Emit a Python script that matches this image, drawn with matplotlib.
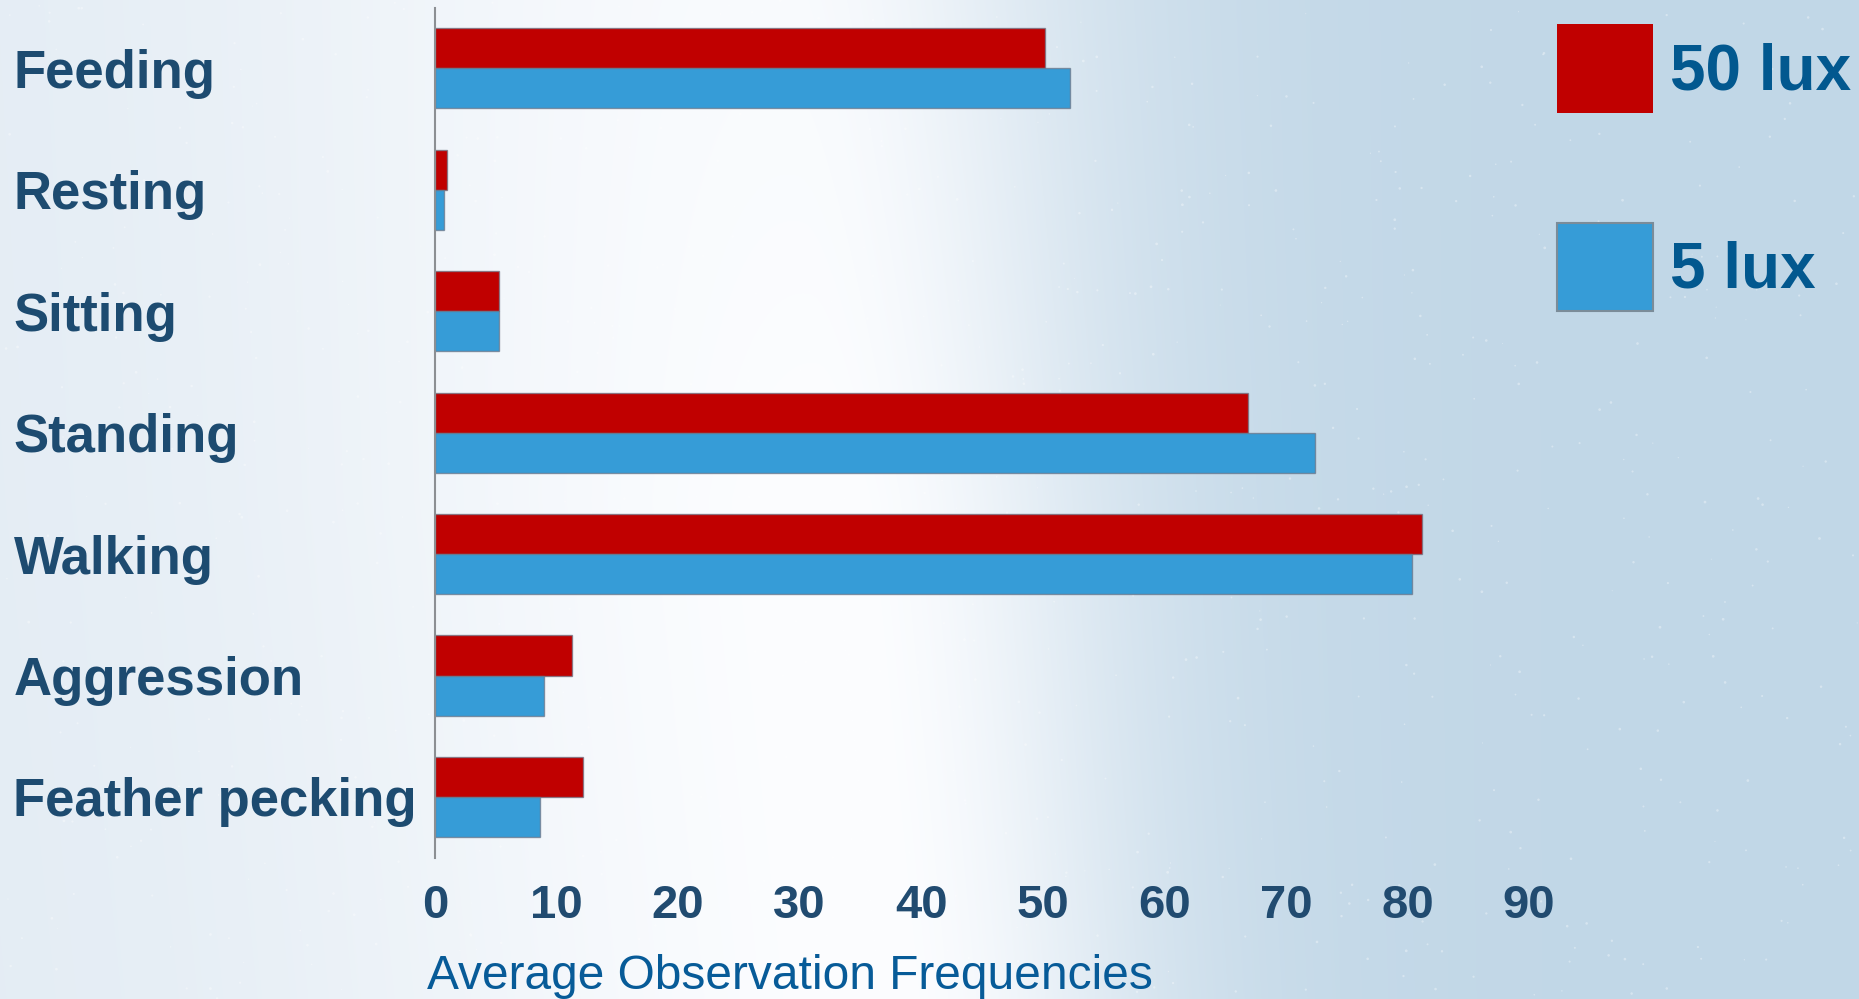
import numpy as np
import matplotlib
matplotlib.use("Agg")
import matplotlib.pyplot as plt

# Behaviour categories (top to bottom) and average observation frequencies
behaviours = ["Feeding", "Resting", "Sitting", "Standing", "Walking",
              "Aggression", "Feather pecking"]
lux_50 = [50.2, 1.0, 5.3, 66.9, 81.2, 11.3, 12.2]
lux_5 = [52.2, 0.7, 5.3, 72.4, 80.4, 9.0, 8.6]
series_names = ["50 lux", "5 lux"]
x_ticks = [0, 10, 20, 30, 40, 50, 60, 70, 80, 90]
x_title = "Average Observation Frequencies"

RED = "#c00000"
BLUE = "#369cd7"
LABEL_COL = "#1d4b70"
TICK_COL = "#214b70"
LEGEND_COL = "#02588f"
XTITLE_COL = "#075b98"

plt.rcParams["font.family"] = ["Liberation Sans", "DejaVu Sans"]

W, H = 1859, 999
fig = plt.figure(figsize=(W / 100, H / 100), dpi=100)

# ---- soft sky background with a bright glow ----
bg = fig.add_axes([0, 0, 1, 1], zorder=-10)
X, Y = np.meshgrid(np.arange(W, dtype=float), np.arange(H, dtype=float))
left_col = np.array([227, 236, 244]) / 255
right_col = np.array([193, 215, 231]) / 255
white = np.array([252, 253, 255]) / 255
s = 1 / (1 + np.exp(-(X - 1050) / 140))
base = left_col * (1 - s)[..., None] + right_col * s[..., None]
xc = 780 + 0.1 * Y
dx = X - xc
sig = np.where(dx < 0, 520.0, 230.0)
w = np.exp(-(dx / sig) ** 2)
w *= 0.88 + 0.12 * np.clip(Y / 500, 0, 1)
img = base * (1 - w)[..., None] + white * w[..., None]
bg.imshow(img, extent=[0, W, H, 0], aspect="auto", interpolation="bilinear")
rng = np.random.default_rng(7)
n = 900
sx = rng.uniform(0, W, n)
sy = rng.uniform(0, H, n)
bg.scatter(sx, sy, s=rng.uniform(0.5, 4, n), color="white",
           alpha=0.35, linewidths=0)
bg.set_xlim(0, W)
bg.set_ylim(H, 0)
bg.axis("off")

# ---- bar chart ----
ax = fig.add_axes([435 / W, (H - 857.7) / H, 1094 / W, 850 / H])
ax.patch.set_alpha(0)
pos = np.arange(len(behaviours))
h = 0.33
edge = (0.42, 0.45, 0.52, 0.7)
b1 = ax.barh(pos - h / 2, lux_50, height=h, color=RED, edgecolor=edge,
             linewidth=1.0, label=series_names[0])
b2 = ax.barh(pos + h / 2, lux_5, height=h, color=BLUE, edgecolor=edge,
             linewidth=1.0, label=series_names[1])

ax.set_ylim(6.5, -0.5)
ax.set_xlim(0, 90)
ax.set_xticks(x_ticks)
ax.set_xticklabels([str(t) for t in x_ticks])
ax.set_yticks(pos)
ax.set_yticklabels(behaviours)

for sp in ["top", "right", "bottom"]:
    ax.spines[sp].set_visible(False)
ax.spines["left"].set_color("#8c8f93")
ax.spines["left"].set_linewidth(1.5)

ax.tick_params(axis="x", length=0, pad=19, labelsize=34, labelcolor=TICK_COL)
ax.tick_params(axis="y", length=0, pad=303.5, labelsize=38, labelcolor=LABEL_COL)
for lab in ax.get_xticklabels():
    lab.set_fontweight("bold")
for lab in ax.get_yticklabels():
    lab.set_fontweight("bold")
    lab.set_horizontalalignment("left")

ax.set_xlabel(x_title, fontsize=34.5, color=XTITLE_COL, loc="left")
ax.xaxis.set_label_coords(-0.0075, -0.113)
ax.xaxis.label.set_horizontalalignment("left")
ax.xaxis.label.set_verticalalignment("top")

# ---- legend ----
leg = fig.legend(handles=[b1, b2], labels=series_names,
                 loc="upper left", bbox_to_anchor=(1557 / W, 1 - 24 / H),
                 frameon=False, borderpad=0, borderaxespad=0,
                 prop={"size": 46, "weight": "bold"},
                 handlelength=1.5, handleheight=1.76,
                 handletextpad=0.27, labelspacing=1.72)
for t in leg.get_texts():
    t.set_color(LEGEND_COL)
for hnd in leg.legend_handles:
    hnd.set_linewidth(0)
leg.legend_handles[1].set_edgecolor("#7b8c99")
leg.legend_handles[1].set_linewidth(1.5)

fig.savefig("out.png", dpi=100)
